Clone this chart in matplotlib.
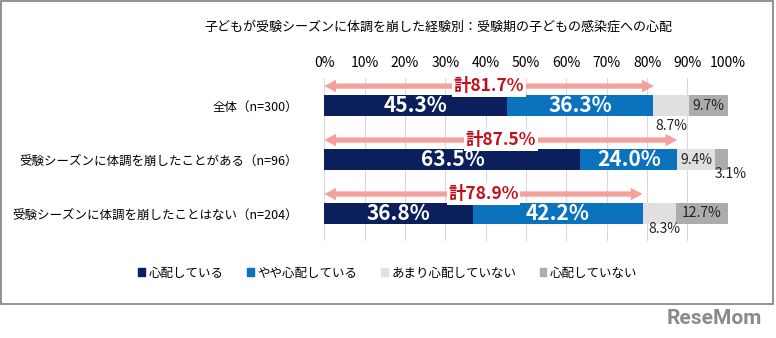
import matplotlib.pyplot as plt
from matplotlib.patches import FancyArrowPatch, Patch, Rectangle

plt.rcParams['font.family'] = ['Noto Sans CJK JP', 'DejaVu Sans']

# data
categories = ["全体（n=300）",
              "受験シーズンに体調を崩したことがある（n=96）",
              "受験シーズンに体調を崩したことはない（n=204）"]
series_names = ["心配している", "やや心配している", "あまり心配していない", "心配していない"]
very_worried = [45.3, 63.5, 36.8]
somewhat_worried = [36.3, 24.0, 42.2]
not_very_worried = [8.7, 9.4, 8.3]
not_worried = [9.7, 3.1, 12.7]
totals = [81.7, 87.5, 78.9]
title = "子どもが受験シーズンに体調を崩した経験別：受験期の子どもの感染症への心配"

colors = ["#0b1f5c", "#0b72bd", "#e0e0e0", "#acacac"]
arrow_color = "#f4a19b"
total_color = "#c40f1b"

# where the small labels go: (row, series) -> (dx px, dy px) ; (0, 0) = centered in bar
small_pos = {(0, 2): (0, 20), (0, 3): (0, 0),
             (1, 2): (0, 0), (1, 3): (9, 15),
             (2, 2): (5, 16), (2, 3): (0, 0)}

W, H = 776, 338
fig = plt.figure(figsize=(W / 100, H / 100), dpi=100)
ax = fig.add_axes([324.3 / W, 1 - 241 / H, (727.7 - 324.3) / W, (241 - 78) / H])

series = [very_worried, somewhat_worried, not_very_worried, not_worried]
ypos = list(range(len(categories)))
left = [0.0] * len(categories)
for s, vals in enumerate(series):
    ax.barh(ypos, vals, left=left, height=0.39, color=colors[s], zorder=2)
    for i, v in enumerate(vals):
        cx = left[i] + v / 2
        if s < 2:
            ax.text(cx, i, f"{v:.1f}%", ha="center", va="center", color="white",
                    fontsize=15, fontweight="bold", zorder=4)
        else:
            dx, dy = small_pos[(i, s)]
            ax.annotate(f"{v:.1f}%", (cx, i), xytext=(dx * 0.72, -dy * 0.72),
                        textcoords="offset points", ha="center", va="center",
                        fontsize=10, color="#222222", zorder=4)
    left = [l + v for l, v in zip(left, vals)]

# total arrows
for i, t in enumerate(totals):
    y = i - 0.36
    for end in (0, t):
        ax.add_patch(FancyArrowPatch((t / 2, y), (end, y),
                                     arrowstyle="simple,head_width=0.9,head_length=0.85,tail_width=0.38",
                                     mutation_scale=10, color=arrow_color, lw=0,
                                     shrinkA=0, shrinkB=0, zorder=3))
    ax.text(t / 2, y, f"計{t:.1f}%", ha="center", va="center", color=total_color,
            fontsize=12.5, fontweight="bold", zorder=5,
            bbox=dict(boxstyle="square,pad=0.1", fc="white", ec="none"))

ax.set_xlim(0, 100)
ax.set_ylim(2.51, -0.51)
ax.set_xticks(range(0, 101, 10))
ax.set_xticklabels([f"{v}%" for v in range(0, 101, 10)], fontsize=10)
ax.xaxis.tick_top()
ax.tick_params(axis="x", length=0, pad=6)
ax.set_yticks(ypos)
ax.set_yticklabels(categories, fontsize=9)
ax.tick_params(axis="y", length=0, pad=19)
ax.grid(axis="x", color="#d9d9d9", lw=0.8, zorder=0)
ax.set_axisbelow(True)
for sp in ax.spines.values():
    sp.set_visible(False)

fig.text(438 / W, 1 - 27 / H, title, ha="center", va="center", fontsize=9.4)

handles = [Patch(color=c) for c in colors]
fig.legend(handles, series_names, loc="center", bbox_to_anchor=(388 / W, 1 - 273 / H),
           ncol=4, frameon=False, fontsize=9, handlelength=0.55, handleheight=0.55,
           handletextpad=0.3, columnspacing=1.85)

fig.patches.append(Rectangle((1 / W, 1 - 304 / H), 772 / W, 303 / H, transform=fig.transFigure,
                             fill=False, ec="#7f7f7f", lw=1.2))
fig.text(714 / W, 1 - 318 / H, "ReseMom", ha="center", va="center", fontsize=15,
         fontweight="bold", color="#8a8a8a", family="Roboto")

fig.savefig("out.png", dpi=100)
